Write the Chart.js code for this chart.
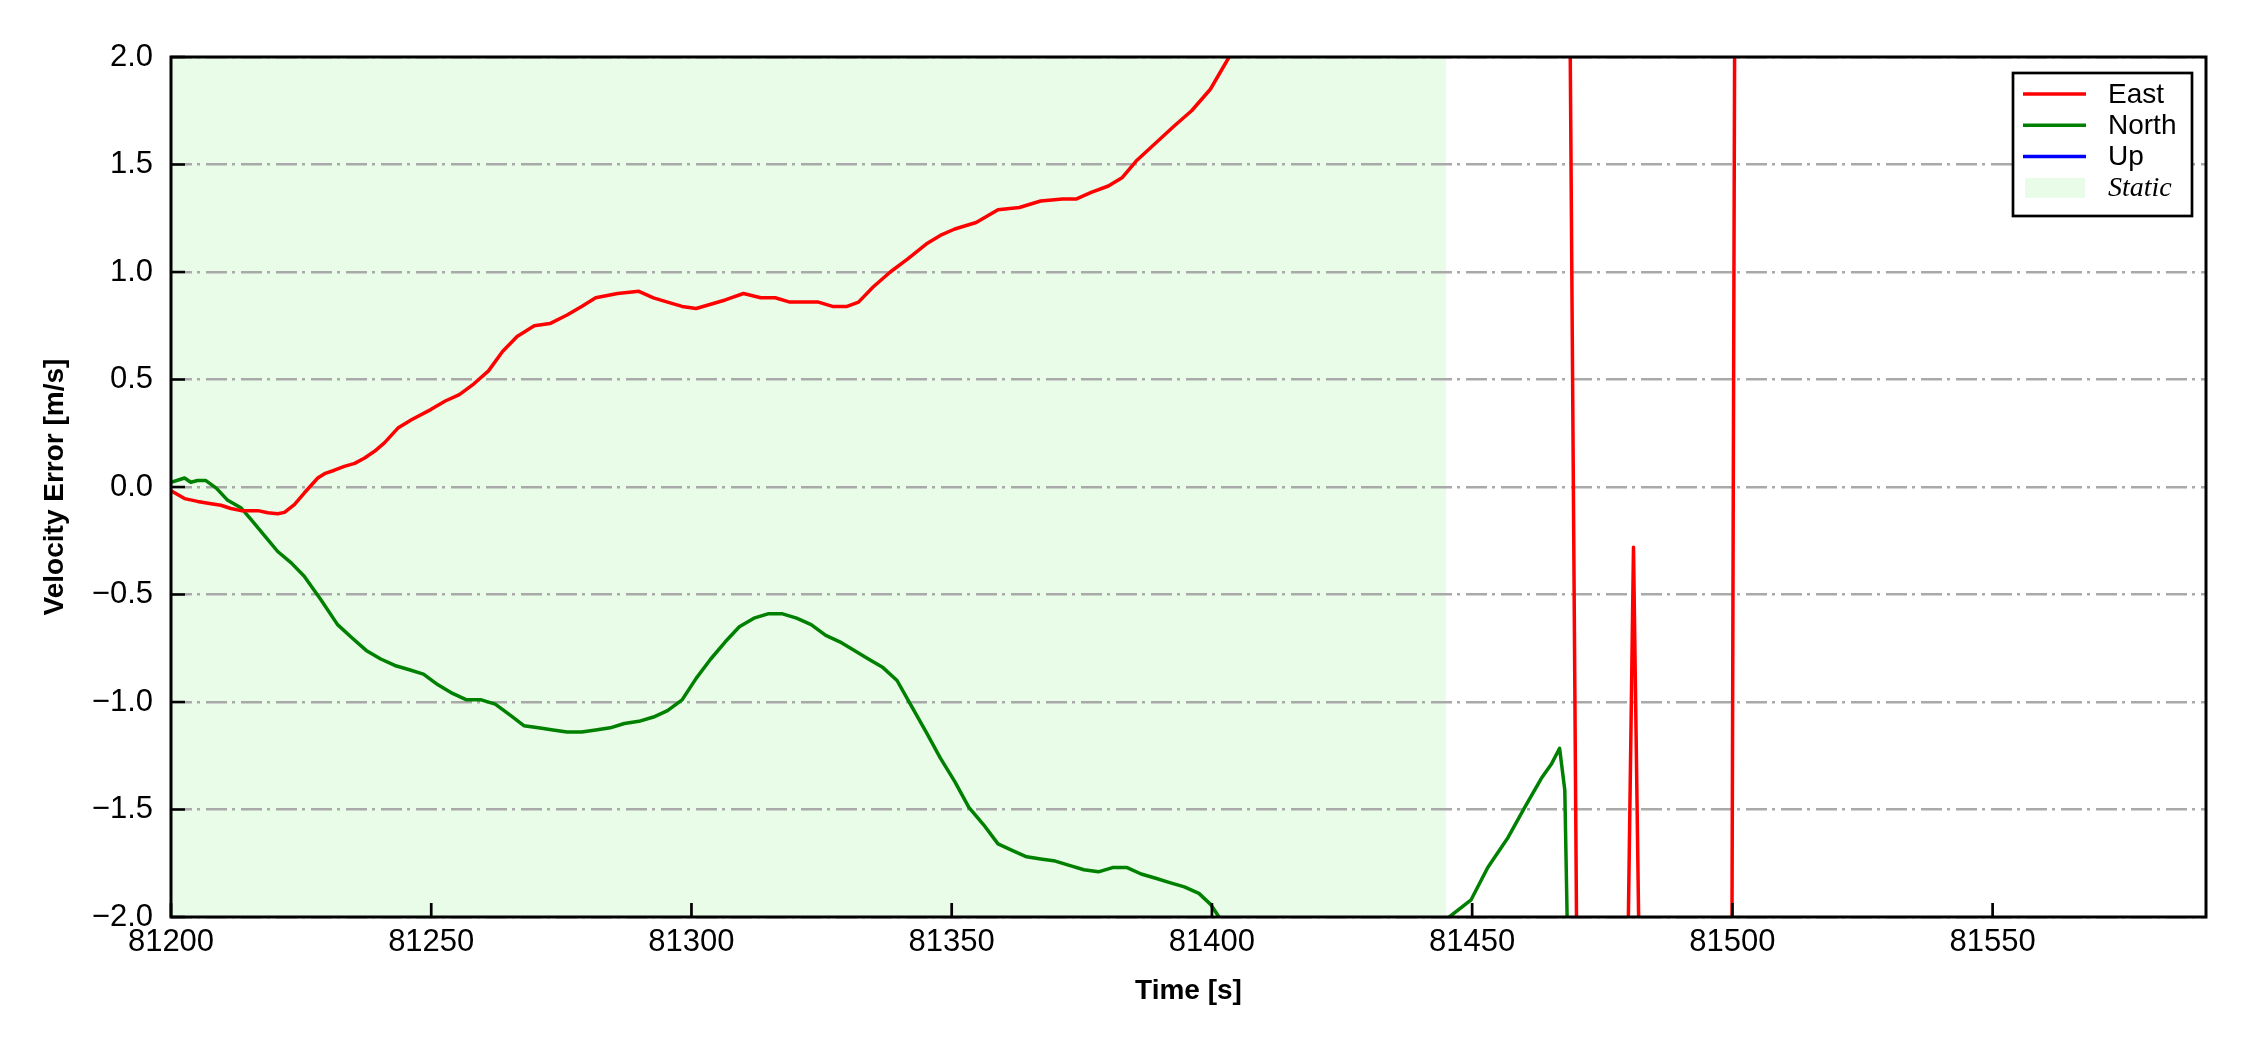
<!DOCTYPE html>
<html>
<head>
<meta charset="utf-8">
<title>Velocity Error</title>
<script src="https://cdn.jsdelivr.net/npm/chart.js@4.4.1/dist/chart.umd.min.js"></script>
<style>
  html, body { margin: 0; padding: 0; background: #fff; }
  #wrap { width: 2250px; height: 1050px; position: relative; }
</style>
</head>
<body>
<div id="wrap"><canvas id="velChart"></canvas></div>
<script>
// Velocity error plot (East / North / Up) with the static period shaded

// East error samples [s], [m/s]
const eastTime = [
    81200, 81202.6, 81205.1, 81207.7, 81209.6, 81211.5, 81213.5, 81216.7, 81218.6, 81220.5,
    81221.8, 81223.7, 81225.6, 81228.2, 81229.5, 81231.4, 81233.3, 81235.3, 81237.2, 81239.1,
    81241, 81243.6, 81246.2, 81249.9, 81252.7, 81255.4, 81258.2, 81261, 81263.7, 81266.5,
    81269.8, 81272.8, 81276.1, 81278.9, 81281.6, 81285.8, 81289.9, 81292.7, 81295.4, 81298.2,
    81300.9, 81303.7, 81306.5, 81310, 81313.3, 81316.1, 81318.9, 81321.6, 81324.4, 81327.1,
    81329.9, 81332.1, 81334.9, 81338.2, 81341.5, 81345.1, 81347.8, 81350.6, 81354.7, 81358.9,
    81363, 81367.1, 81371.3, 81374, 81376.8, 81380.1, 81382.8, 81385.6, 81389.2, 81392.8,
    81396.1, 81399.7, 81403.3, 81406, 81415, 81430, 81450, 81468.4, 81470.8, 81476,
    81479.5, 81481, 81482.5, 81490, 81499.8, 81500.8, 81510
];
const eastValues = [
    -0.017, -0.054, -0.067, -0.078, -0.085, -0.10, -0.11, -0.11, -0.12, -0.124,
    -0.118, -0.082, -0.028, 0.042, 0.062, 0.078, 0.096, 0.11, 0.135, 0.166,
    0.205, 0.274, 0.313, 0.36, 0.40, 0.43, 0.48, 0.54, 0.63, 0.70,
    0.75, 0.76, 0.80, 0.84, 0.88, 0.90, 0.91, 0.88, 0.86, 0.84,
    0.83, 0.85, 0.87, 0.90, 0.88, 0.88, 0.86, 0.86, 0.86, 0.84,
    0.84, 0.86, 0.93, 1.00, 1.06, 1.13, 1.17, 1.20, 1.23, 1.29,
    1.30, 1.33, 1.34, 1.34, 1.37, 1.40, 1.44, 1.52, 1.60, 1.68,
    1.75, 1.85, 2.00, 2.2, 2.8, 3.4, 3.8, 3.5, -4.5, -3.0,
    -2.9, -0.28, -2.9, -3.2, -3.0, 5.0, 6.0
];

// North error samples
const northTime = [
    81200, 81202.6, 81203.8, 81205.1, 81206.7, 81208.7, 81210.9, 81213.5, 81215.4, 81218.6,
    81220.5, 81223.1, 81225.6, 81228.8, 81232, 81234.7, 81237.5, 81240.3, 81243, 81245.8,
    81248.5, 81251.3, 81254.1, 81256.8, 81259.6, 81262.3, 81265.1, 81267.8, 81270.6, 81273.4,
    81276.1, 81278.9, 81281.6, 81284.4, 81287.1, 81289.9, 81292.7, 81295.4, 81298.2, 81300.9,
    81303.7, 81306.5, 81309.2, 81312, 81314.7, 81317.5, 81320.2, 81323, 81325.8, 81328.5,
    81331.3, 81334, 81336.8, 81339.5, 81342.3, 81345.1, 81347.8, 81350.6, 81353.3, 81356.1,
    81358.9, 81361.6, 81364.4, 81367.1, 81369.9, 81372.6, 81375.4, 81378.2, 81380.9, 81383.7,
    81386.4, 81389.2, 81391.9, 81394.7, 81397.5, 81399.7, 81402.2, 81410, 81425, 81438,
    81445.6, 81449.8, 81453, 81456.9, 81460.1, 81463.3, 81465.2, 81466.8, 81467.8, 81468.4,
    81469
];
const northValues = [
    0.022, 0.042, 0.022, 0.03, 0.03, -0.005, -0.062, -0.098, -0.152, -0.245,
    -0.30, -0.353, -0.415, -0.524, -0.64, -0.70, -0.76, -0.80, -0.83, -0.85,
    -0.87, -0.92, -0.96, -0.99, -0.99, -1.01, -1.06, -1.11, -1.12, -1.13,
    -1.14, -1.14, -1.13, -1.12, -1.10, -1.09, -1.07, -1.04, -0.99, -0.89,
    -0.80, -0.72, -0.65, -0.61, -0.59, -0.59, -0.61, -0.64, -0.69, -0.72,
    -0.76, -0.80, -0.84, -0.90, -1.02, -1.14, -1.26, -1.37, -1.49, -1.57,
    -1.66, -1.69, -1.72, -1.73, -1.74, -1.76, -1.78, -1.79, -1.77, -1.77,
    -1.80, -1.82, -1.84, -1.86, -1.89, -1.94, -2.03, -2.3, -2.5, -2.3,
    -2.0, -1.92, -1.77, -1.63, -1.49, -1.355, -1.29, -1.215, -1.41, -2.2,
    -4.0
];

// Up error: no sample falls inside the plotted range
const upTime = [];
const upValues = [];

// Static period [s]
const staticRange = [81200, 81445];

// Axis ticks
const xTicks = [81200, 81250, 81300, 81350, 81400, 81450, 81500, 81550];
const yTicks = [-2.0, -1.5, -1.0, -0.5, 0.0, 0.5, 1.0, 1.5, 2.0];

const seriesNames = ['East', 'North', 'Up'];
const seriesColors = ['#ff0000', '#008000', '#0000ff'];
const staticLabel = 'Static';
const staticColor = 'rgb(232, 252, 232)';

function toPoints(times, values) {
    return times.map((t, i) => ({ x: t, y: values[i] }));
}

// Shaded static band, drawn under the grid
const staticBand = {
    id: 'staticBand',
    beforeDraw(chart) {
        const { ctx, chartArea: a, scales: { x } } = chart;
        const x0 = Math.max(x.getPixelForValue(staticRange[0]), a.left);
        const x1 = Math.min(x.getPixelForValue(staticRange[1]), a.right);
        ctx.save();
        ctx.fillStyle = staticColor;
        ctx.fillRect(x0, a.top, x1 - x0, a.bottom - a.top);
        ctx.restore();
    }
};

// Box frame + inward tick marks (matplotlib look)
const frameAndTicks = {
    id: 'frameAndTicks',
    afterDatasetsDraw(chart) {
        const { ctx, chartArea: a, scales: { x, y } } = chart;
        ctx.save();
        ctx.strokeStyle = '#000';
        ctx.lineWidth = 2.7;
        ctx.beginPath();
        x.ticks.forEach(t => {
            const px = x.getPixelForValue(t.value);
            ctx.moveTo(px, a.bottom);
            ctx.lineTo(px, a.bottom - 14);
        });
        y.ticks.forEach(t => {
            const py = y.getPixelForValue(t.value);
            ctx.moveTo(a.left, py);
            ctx.lineTo(a.left + 14, py);
        });
        ctx.stroke();
        ctx.lineWidth = 3;
        ctx.strokeRect(a.left, a.top, a.right - a.left, a.bottom - a.top);
        ctx.restore();
    }
};

// Legend box in the upper right corner of the plot
const cornerLegend = {
    id: 'cornerLegend',
    afterDraw(chart) {
        const { ctx, chartArea: a } = chart;
        const w = 179, h = 143;
        const left = a.right - 14 - w;
        const top = a.top + 16;
        const rowGap = 31.3;
        ctx.save();
        ctx.fillStyle = '#fff';
        ctx.fillRect(left, top, w, h);
        ctx.strokeStyle = '#000';
        ctx.lineWidth = 2.7;
        ctx.strokeRect(left, top, w, h);

        ctx.textBaseline = 'middle';
        ctx.textAlign = 'left';
        chart.data.datasets.forEach((ds, i) => {
            const cy = top + 21 + i * rowGap;
            ctx.strokeStyle = ds.borderColor;
            ctx.lineWidth = 3.5;
            ctx.beginPath();
            ctx.moveTo(left + 10, cy);
            ctx.lineTo(left + 73, cy);
            ctx.stroke();
            ctx.fillStyle = '#000';
            ctx.font = '28px "Liberation Sans", Arial, sans-serif';
            ctx.fillText(ds.label, left + 95, cy + 1);
        });
        const sy = top + 21 + 3 * rowGap;
        ctx.fillStyle = staticColor;
        ctx.fillRect(left + 12, sy - 10, 60, 20);
        ctx.fillStyle = '#000';
        ctx.font = 'italic 28px "Liberation Serif", "Times New Roman", serif';
        ctx.fillText(staticLabel, left + 95, sy + 1);
        ctx.restore();
    }
};

document.addEventListener('DOMContentLoaded', function() {
    const ctx = document.getElementById('velChart');
    Chart.defaults.font.family = '"Liberation Sans", Arial, sans-serif';
    Chart.defaults.color = '#000';

    const seriesData = [
        toPoints(eastTime, eastValues),
        toPoints(northTime, northValues),
        toPoints(upTime, upValues)
    ];

    new Chart(ctx, {
        type: 'line',
        data: {
            datasets: seriesNames.map((name, i) => ({
                label: name,
                data: seriesData[i],
                borderColor: seriesColors[i],
                backgroundColor: seriesColors[i],
                borderWidth: 3.5,
                borderJoinStyle: 'round',
                pointRadius: 0,
                tension: 0,
                fill: false
            }))
        },
        options: {
            responsive: true,
            maintainAspectRatio: false,
            animation: false,
            parsing: false,
            layout: {
                padding: { top: 57, right: 44, left: 0, bottom: 0 }
            },
            plugins: {
                legend: { display: false },
                tooltip: { enabled: false }
            },
            scales: {
                x: {
                    type: 'linear',
                    min: 81200,
                    max: 81591,
                    afterFit: s => { s.height = 133; },
                    afterBuildTicks: s => { s.ticks = xTicks.map(v => ({ value: v })); },
                    ticks: {
                        font: { size: 31 },
                        padding: 7,
                        maxRotation: 0,
                        callback: v => String(v)
                    },
                    grid: { display: false, drawTicks: false },
                    border: { display: false },
                    title: {
                        display: true,
                        text: 'Time [s]',
                        font: { size: 28, weight: 'bold' },
                        padding: { top: 0, bottom: 42 }
                    }
                },
                y: {
                    type: 'linear',
                    min: -2,
                    max: 2,
                    afterFit: s => { s.width = 171; },
                    afterBuildTicks: s => { s.ticks = yTicks.map(v => ({ value: v })); },
                    ticks: {
                        font: { size: 31 },
                        padding: 18,
                        callback: v => (v < 0 ? '\u2212' : '') + Math.abs(v).toFixed(1)
                    },
                    grid: {
                        color: '#a9a9a9',
                        lineWidth: 2.5,
                        drawTicks: false
                    },
                    border: { display: false, dash: [21, 5, 3, 6] },
                    title: {
                        display: true,
                        text: 'Velocity Error [m/s]',
                        font: { size: 28, weight: 'bold' },
                        padding: { top: 38, bottom: 0 }
                    }
                }
            }
        },
        plugins: [staticBand, frameAndTicks, cornerLegend]
    });
});
</script>
</body>
</html>
